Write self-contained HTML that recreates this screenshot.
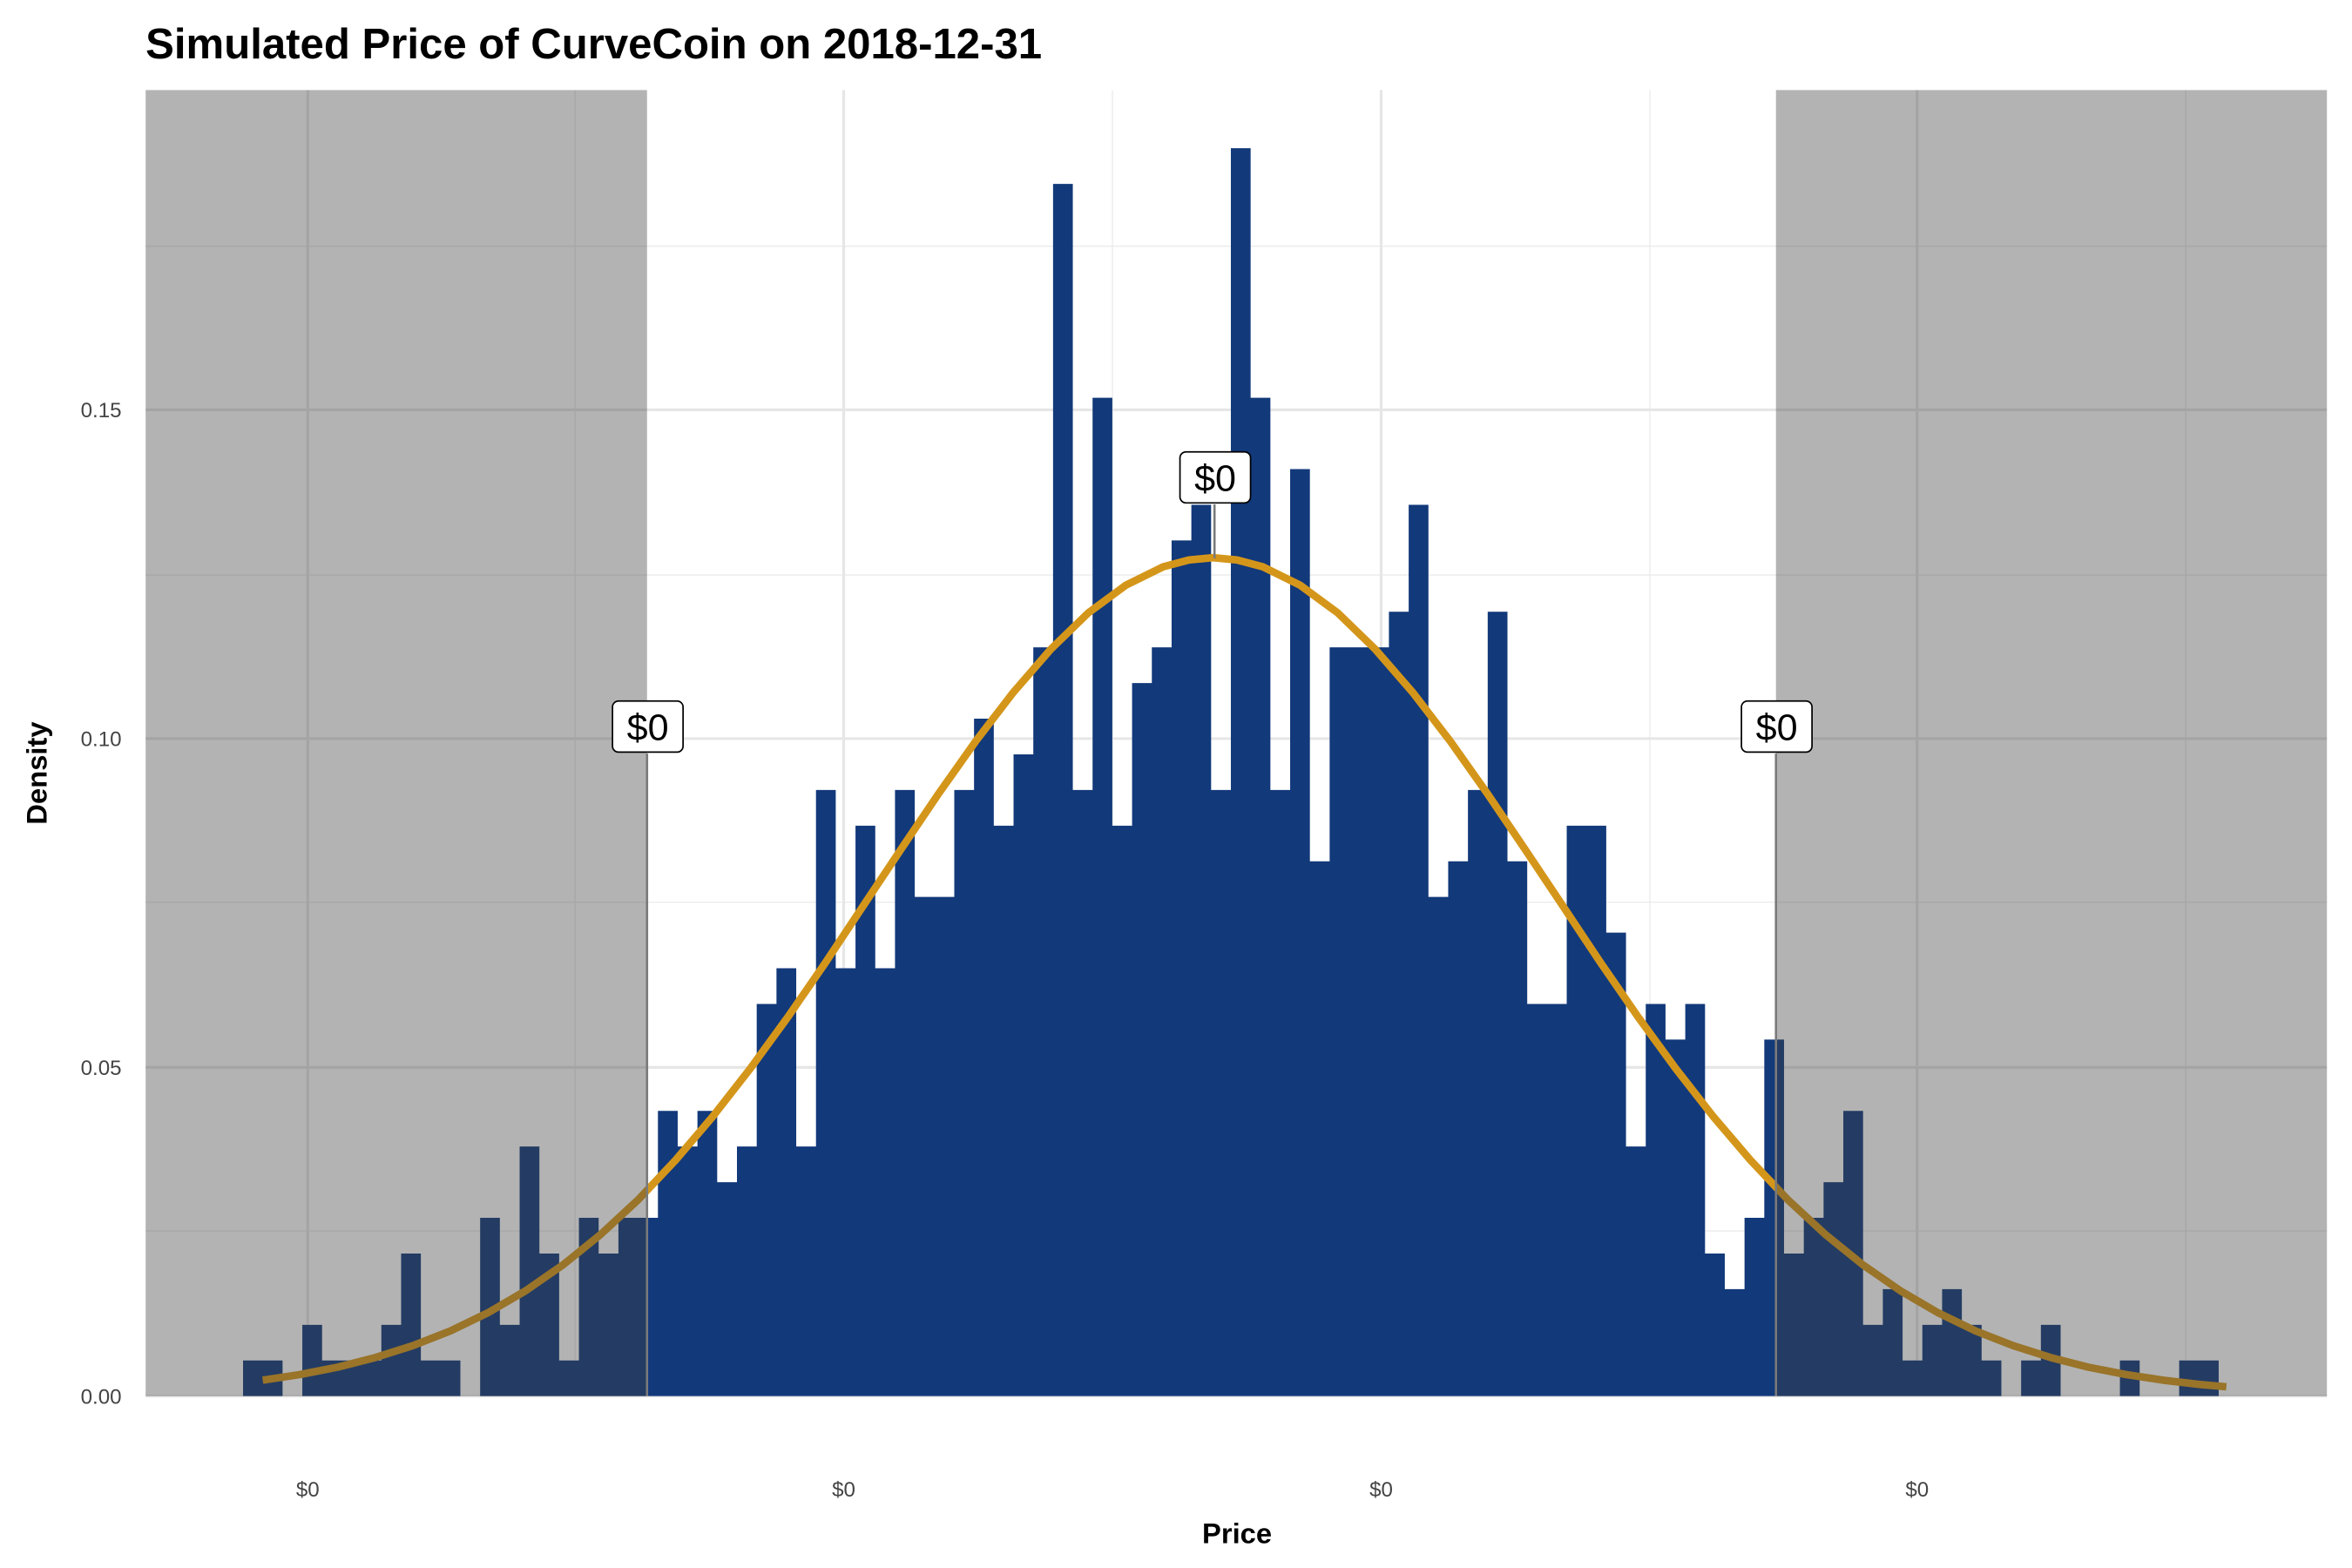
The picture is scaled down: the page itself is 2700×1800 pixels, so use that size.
<!DOCTYPE html>
<html><head><meta charset="utf-8"><style>
html,body{margin:0;padding:0;background:#fff;}
svg{display:block;}
text{font-family:"Liberation Sans",Arial,sans-serif;}
</style></head><body>
<svg width="2700" height="1800" viewBox="0 0 1566.7 1044.5" preserveAspectRatio="none" xmlns="http://www.w3.org/2000/svg">
<rect width="1570" height="1050" fill="#fff"/>
<text x="97" y="39" font-size="28.5" font-weight="bold" fill="#000">Simulated Price of CurveCoin on 2018-12-31</text>
<!-- minor grid -->
<g stroke="#ebebeb" stroke-width="0.8">
<line x1="97" x2="1550" y1="820" y2="820"/><line x1="97" x2="1550" y1="601" y2="601"/>
<line x1="97" x2="1550" y1="383" y2="383"/><line x1="97" x2="1550" y1="164" y2="164"/>
<line x1="383" x2="383" y1="60" y2="930"/><line x1="741" x2="741" y1="60" y2="930"/>
<line x1="1099" x2="1099" y1="60" y2="930"/><line x1="1456" x2="1456" y1="60" y2="930"/>
</g>
<g stroke="#e6e6e6" stroke-width="1.8">
<line x1="97" x2="1550" y1="930" y2="930"/><line x1="97" x2="1550" y1="711" y2="711"/>
<line x1="97" x2="1550" y1="492" y2="492"/><line x1="97" x2="1550" y1="273" y2="273"/>
<line x1="205" x2="205" y1="60" y2="930"/><line x1="562" x2="562" y1="60" y2="930"/>
<line x1="920" x2="920" y1="60" y2="930"/><line x1="1277" x2="1277" y1="60" y2="930"/>
</g>
<!-- bars -->
<path fill="#12397a" d="M161.9,930 V906.25 h13.16 V906.25 h13.16 V930 h13.16 V882.5 h13.16 V906.25 h13.16 V906.25 h13.16 V906.25 h13.16 V882.5 h13.16 V835 h13.16 V906.25 h13.16 V906.25 h13.16 V930 h13.16 V811.25 h13.16 V882.5 h13.16 V763.75 h13.16 V835 h13.16 V906.25 h13.16 V811.25 h13.16 V835 h13.16 V811.25 h13.16 V811.25 h13.16 V740 h13.16 V763.75 h13.16 V740 h13.16 V787.5 h13.16 V763.75 h13.16 V668.75 h13.16 V645 h13.16 V763.75 h13.16 V526.25 h13.16 V645 h13.16 V550 h13.16 V645 h13.16 V526.25 h13.16 V597.5 h13.16 V597.5 h13.16 V526.25 h13.16 V478.75 h13.16 V550 h13.16 V502.5 h13.16 V431.25 h13.16 V122.5 h13.16 V526.25 h13.16 V265 h13.16 V550 h13.16 V455 h13.16 V431.25 h13.16 V360 h13.16 V336.25 h13.16 V526.25 h13.16 V98.75 h13.16 V265 h13.16 V526.25 h13.16 V312.5 h13.16 V573.75 h13.16 V431.25 h13.16 V431.25 h13.16 V431.25 h13.16 V407.5 h13.16 V336.25 h13.16 V597.5 h13.16 V573.75 h13.16 V526.25 h13.16 V407.5 h13.16 V573.75 h13.16 V668.75 h13.16 V668.75 h13.16 V550 h13.16 V550 h13.16 V621.25 h13.16 V763.75 h13.16 V668.75 h13.16 V692.5 h13.16 V668.75 h13.16 V835 h13.16 V858.75 h13.16 V811.25 h13.16 V692.5 h13.16 V835 h13.16 V811.25 h13.16 V787.5 h13.16 V740 h13.16 V882.5 h13.16 V858.75 h13.16 V906.25 h13.16 V882.5 h13.16 V858.75 h13.16 V882.5 h13.16 V906.25 h13.16 V930 h13.16 V906.25 h13.16 V882.5 h13.16 V930 h13.16 V930 h13.16 V930 h13.16 V906.25 h13.16 V930 h13.16 V930 h13.16 V906.25 h13.16 V906.25 h13.16 V930 Z"/>
<!-- density curve -->
<polyline fill="none" stroke="#d4961a" stroke-width="5" stroke-linejoin="round" points="175,919.4 200,915.6 225,910.7 250,904.3 275,896.4 300,886.6 325,874.5 350,859.9 375,842.6 400,822.4 425,799.3 450,772.8 475,743.5 500,711.5 525,677.2 550,641 575,603.4 600,566 625,529 650,493.7 675,461.2 700,432.4 725,408.2 750,389.8 775,377.5 792,373 808,371.5 824,373 841,377.5 866,389.8 891,408.2 916,432.4 941,461.2 966,493.7 991,529 1016,566 1041,603.4 1066,641 1091,677.2 1116,711.5 1141,743.5 1166,772.8 1191,799.3 1216,822.4 1241,842.6 1266,859.9 1291,874.5 1316,886.6 1341,896.4 1366,904.3 1391,910.7 1416,915.6 1441,919.4 1466,922.3 1483,923.8"/>
<!-- shaded regions -->
<rect x="97" y="60" width="334" height="870" fill="rgba(65,65,65,0.4)"/>
<rect x="1183" y="60" width="367" height="870" fill="rgba(65,65,65,0.4)"/>
<!-- label lines -->
<g stroke="#7a7a7a" stroke-width="1.5">
<line x1="431" x2="431" y1="502" y2="930"/>
<line x1="1183" x2="1183" y1="502" y2="930"/>
<line x1="809" x2="809" y1="336" y2="372"/>
</g>
<g font-size="25" text-anchor="middle" fill="#000">
<rect x="408" y="467" width="47" height="34" rx="4" fill="#fff" stroke="#000" stroke-width="1"/>
<text x="431.5" y="493">$0</text>
<rect x="1160" y="467" width="47" height="34" rx="4" fill="#fff" stroke="#000" stroke-width="1"/>
<text x="1183.5" y="493">$0</text>
<rect x="786" y="301" width="47" height="34" rx="4" fill="#fff" stroke="#000" stroke-width="1"/>
<text x="809.5" y="327">$0</text>
</g>
<!-- axes text -->
<g font-size="14" fill="#444" text-anchor="end">
<text x="81" y="935">0.00</text><text x="81" y="716">0.05</text>
<text x="81" y="497">0.10</text><text x="81" y="278">0.15</text>
</g>
<g font-size="14" fill="#444" text-anchor="middle">
<text x="205" y="997">$0</text><text x="562" y="997">$0</text>
<text x="920" y="997">$0</text><text x="1277" y="997">$0</text>
</g>
<text x="824" y="1028" font-size="19" font-weight="bold" text-anchor="middle">Price</text>
<text transform="translate(31,515) rotate(-90)" font-size="19" font-weight="bold" text-anchor="middle">Density</text>
</svg>
</body></html>
